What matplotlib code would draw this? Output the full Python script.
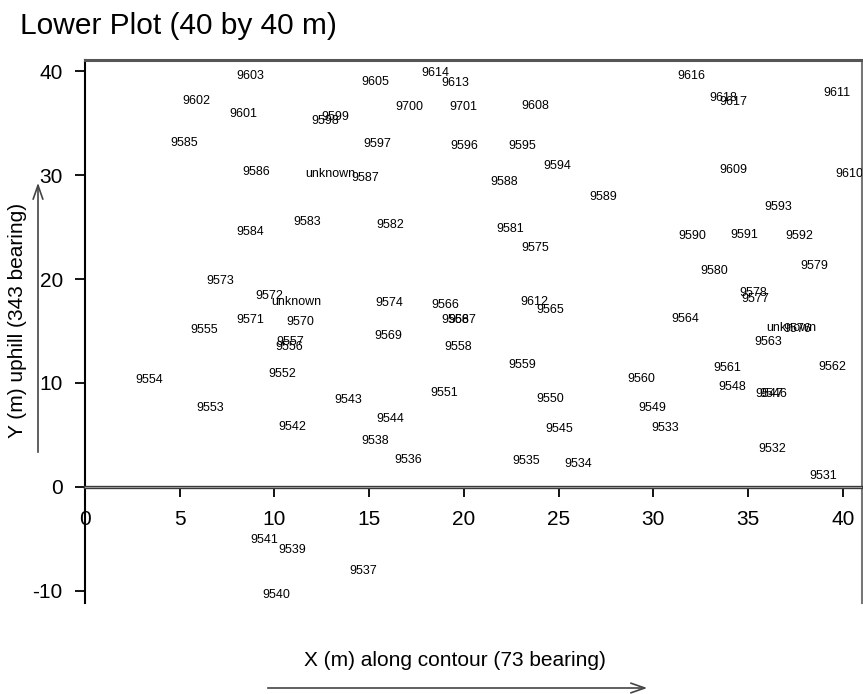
# Tree tag map of the lower 40 x 40 m plot
import matplotlib
matplotlib.use("Agg")
import matplotlib.pyplot as plt

# tag labels and their positions (m)
tags = ["9603", "9602", "9601", "9598", "9599", "9585", "9586", "unknown",
        "9614", "9613", "9605", "9700", "9701", "9608", "9597", "9596",
        "9595", "9594", "9587", "9588", "9589",
        "9616", "9618", "9617", "9611", "9609", "9610", "9593",
        "9583", "9584", "9573", "9572", "unknown", "9571", "9570", "9555",
        "9557", "9556",
        "9582", "9581", "9575", "9574", "9566", "9568", "9567", "9569",
        "9558", "9612", "9565",
        "9590", "9591", "9592", "9579", "9580", "9578", "9577", "9564",
        "unknown", "9576", "9563",
        "9554", "9552", "9553", "9542", "9543",
        "9559", "9551", "9550", "9544", "9545", "9538", "9536", "9535", "9534",
        "9560", "9561", "9562", "9548", "9547", "9546", "9549", "9533",
        "9532", "9531",
        "9541", "9539", "9537", "9540"]
x_m = [8.7, 5.9, 8.35, 12.66, 13.19, 5.22, 9.02, 12.93,
       18.52, 19.53, 15.34, 17.1, 19.98, 23.76, 15.44, 20.0,
       23.06, 24.94, 14.81, 22.13, 27.35,
       32.0, 33.68, 34.21, 39.7, 34.21, 40.37, 36.59,
       11.72, 8.74, 7.12, 9.71, 11.13, 8.74, 11.35, 6.3,
       10.85, 10.77,
       16.09, 22.43, 23.76, 16.04, 19.01, 19.56, 19.93, 16.01,
       19.72, 23.71, 24.57,
       32.05, 34.78, 37.73, 38.5, 33.23, 35.27, 35.36, 31.7,
       37.26, 37.6, 36.06,
       3.38, 10.43, 6.6, 10.92, 13.9,
       23.1, 18.96, 24.57, 16.13, 25.03, 15.3, 17.08, 23.31, 26.02,
       29.36, 33.88, 39.44, 34.16, 36.1, 36.36, 29.94, 30.64,
       36.29, 38.96,
       9.48, 10.96, 14.69, 10.08]
y_m = [39.55, 37.13, 35.94, 35.2, 35.62, 33.1, 30.27, 30.08,
       39.81, 38.84, 39.0, 36.59, 36.59, 36.68, 33.04, 32.78,
       32.78, 30.85, 29.69, 29.34, 27.95,
       39.61, 37.46, 37.03, 37.94, 30.46, 30.14, 26.93,
       25.54, 24.51, 19.84, 18.39, 17.84, 16.04, 15.82, 15.1,
       13.98, 13.46,
       25.22, 24.83, 23.0, 17.71, 17.49, 16.07, 16.07, 14.52,
       13.5, 17.75, 17.03,
       24.18, 24.28, 24.18, 21.29, 20.77, 18.62, 18.07, 16.14,
       15.27, 15.2, 13.94,
       10.27, 10.85, 7.6, 5.77, 8.31,
       11.76, 9.05, 8.41, 6.57, 5.57, 4.44, 2.58, 2.44, 2.22,
       10.34, 11.43, 11.53, 9.57, 8.96, 8.96, 7.57, 5.63,
       3.64, 1.0,
       -5.12, -6.09, -8.12, -10.43]

x_ticks = [0, 5, 10, 15, 20, 25, 30, 35, 40]
y_ticks = [-10, 0, 10, 20, 30, 40]

plt.rcParams['font.family'] = ['Liberation Sans', 'DejaVu Sans']
plt.rcParams['axes.unicode_minus'] = False  # plain hyphen as in the original

fig = plt.figure(figsize=(8.63, 6.94), dpi=100)
ax = fig.add_axes([0.0985, 0.1311, 0.9, 0.7824])
ax.set_xlim(0, 41.0)
ax.set_ylim(-11.2, 41.1)

for lab, x, y in zip(tags, x_m, y_m):
    ax.text(x, y, lab, fontsize=9, ha='center', va='center', clip_on=True)

# x axis drawn along y = 0
ax.spines['bottom'].set_position(('data', 0))
ax.spines['bottom'].set_linewidth(2.4)
ax.spines['bottom'].set_color('#3a3a3a')
ax.axhline(0, color='#9a9a9a', lw=0.7, zorder=3)
ax.spines['top'].set_linewidth(2.2)
ax.spines['top'].set_color('#555555')
ax.spines['left'].set_linewidth(1.5)
ax.spines['left'].set_color('black')
ax.spines['right'].set_linewidth(1.5)
ax.spines['right'].set_color('#777777')

ax.set_xticks(x_ticks)
ax.set_yticks(y_ticks)
ax.tick_params(axis='x', direction='out', length=7, width=1.3, pad=10, labelsize=15)
ax.tick_params(axis='y', direction='out', length=7, width=1.3, pad=9, labelsize=15)

fig.text(20 / 863, 1 - 26 / 694, "Lower Plot (40 by 40 m)", fontsize=21.5,
         ha='left', va='center')

fig.text(455 / 863, 1 - 660 / 694, "X (m) along contour (73 bearing)",
         fontsize=15, ha='center', va='center')
fig.text(18 / 863, 1 - 320 / 694, "Y (m) uphill (343 bearing)",
         fontsize=15, ha='center', va='center', rotation=90)

arrow = dict(arrowstyle='->, head_length=1.0, head_width=0.35', color='#444444', lw=1.2)
ax.annotate("", xy=(650 / 863, 1 - 688 / 694), xytext=(265 / 863, 1 - 688 / 694),
            xycoords='figure fraction', textcoords='figure fraction',
            arrowprops=arrow, annotation_clip=False)
ax.annotate("", xy=(38 / 863, 1 - 180 / 694), xytext=(38 / 863, 1 - 455 / 694),
            xycoords='figure fraction', textcoords='figure fraction',
            arrowprops=arrow, annotation_clip=False)

fig.savefig("out.png", dpi=100)
